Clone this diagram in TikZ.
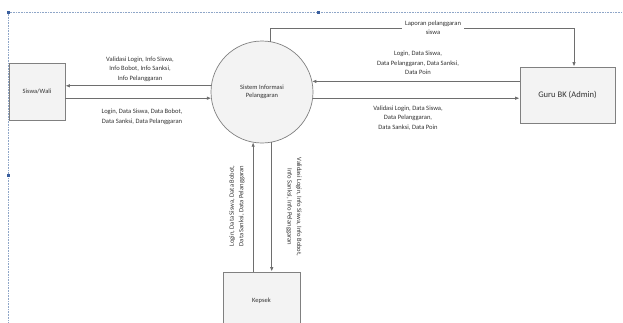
\documentclass[tikz,border=0pt]{standalone}
\usepackage{fontspec}
\setmainfont{Carlito}
\usetikzlibrary{arrows.meta}
\definecolor{lineg}{HTML}{6E6E6E}
\definecolor{boxfill}{HTML}{F3F3F3}
\definecolor{txt}{HTML}{333333}
\definecolor{frame}{HTML}{8FA6C8}
\definecolor{handle}{HTML}{3A5F9E}
\begin{document}
\begin{tikzpicture}[x=1bp,y=-1bp,
  flow/.style={draw=lineg,line width=0.9bp,-{Latex[length=4.5bp,width=3.5bp]}},
  entity/.style={draw=black!50,fill=boxfill,line width=0.7bp,inner sep=0pt,font=\fontsize{6.5}{8}\selectfont,text=txt},
  proc/.style={draw=black!50,fill=boxfill,line width=0.7bp,circle,inner sep=0pt,outer sep=0pt,minimum size=102bp,align=center,font=\fontsize{6.5}{8.5}\selectfont,text=txt},
  lbl/.style={align=center,font=\fontsize{6.6}{9.5}\selectfont,text=txt,inner sep=1pt},
  hnd/.style={fill=handle,minimum size=3bp,inner sep=0pt}]
\useasboundingbox (0,0) rectangle (623,322);
% selection frame
\draw[frame,densely dotted,line width=0.6bp] (8,12) -- (623,12);
\draw[frame,densely dotted,line width=0.6bp] (8,12) -- (8,322);
\node[hnd] (h1) at (8,12) {};
\node[hnd] (h2) at (318,12) {};
\node[hnd] (h3) at (8,175) {};
% nodes
\node[entity,minimum width=56bp,minimum height=57bp] (siswa) at (37,91.5) {Siswa/Wali};
\node[proc] (sis) at (262,92) {Sistem Informasi\\Pelanggaran};
\node[entity,minimum width=95bp,minimum height=56bp,font=\fontsize{8.6}{10}\selectfont] (guru) at (567.5,95) {Guru BK (Admin)};
\node[entity,minimum width=77bp,minimum height=58bp] (kepsek) at (261.5,301) {};
\node[font=\fontsize{6.5}{8}\selectfont,text=txt] (kepsekt) at (kepsek.center) {Kepsek};
% Siswa flows
\draw[flow] (sis.173.24) -- (sis.173.24 -| siswa.east);
\draw[flow] (sis.187.89 -| siswa.east) -- (sis.187.89);
% Guru flows
\draw[flow] (sis.12.46 -| guru.west) -- (sis.12.46);
\draw[flow] (sis.-7.89) -- (sis.-7.89 -| guru.west);
% Kepsek flows
\draw[flow] (sis.260.98 |- kepsek.north) -- (sis.260.98);
\draw[flow] (sis.281.31) -- (sis.281.31 |- kepsek.north);
% Laporan
\coordinate (lap) at (574,28);
\draw[flow] (sis.80.98) |- (lap) -- (lap |- guru.north);
\node[lbl,fill=white,inner xsep=3pt] (laplbl) at (433,27.5) {Laporan pelanggaran\\siswa};
% labels
\node[lbl] (l1) at (140,69) {Validasi Login, Info Siswa,\\Info Bobot, Info Sanksi,\\Info Pelanggaran};
\node[lbl] (l2) at (142,117) {Login, Data Siswa, Data Bobot,\\Data Sanksi, Data Pelanggaran};
\node[lbl] (l3) at (418,63) {Login, Data Siswa,\\Data Pelanggaran, Data Sanksi,\\Data Poin};
\node[lbl] (l4) at (408,118) {Validasi Login, Data Siswa,\\Data Pelanggaran,\\Data Sanksi, Data Poin};
\node[lbl,rotate=90] (l5) at (237,206) {Login, Data Siswa, Data Bobot,\\Data Sanksi, Data Pelanggaran};
\node[lbl,rotate=-90] (l6) at (294,207) {Validasi Login, Info Siswa, Info Bobot,\\Info Sanksi, Info Pelanggaran};
\end{tikzpicture}
\end{document}
